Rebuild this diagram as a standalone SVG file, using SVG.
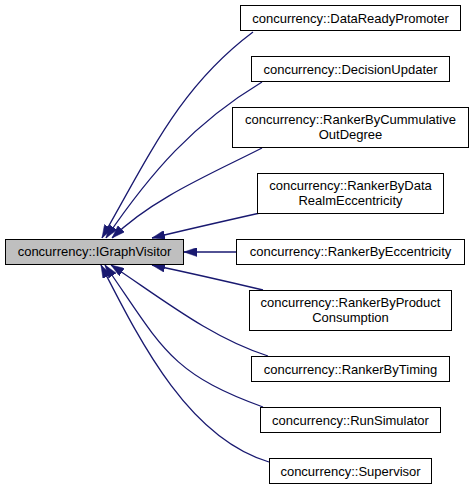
<svg xmlns="http://www.w3.org/2000/svg" width="475" height="489" viewBox="0 0 475 489">
<style>
.box{fill:#ffffff;stroke:#000000;stroke-width:1}
.root{fill:#bfbfbf;stroke:#000000;stroke-width:1}
text{font-family:"Liberation Sans",Arial,Helvetica,sans-serif;font-size:13px;fill:#000000;text-anchor:middle}
.edge{fill:none;stroke:#191970;stroke-width:1.3;marker-end:url(#arr)}
</style>
<defs>
<marker id="arr" viewBox="0 0 13 9" markerWidth="13" markerHeight="9" markerUnits="userSpaceOnUse" refX="13" refY="4.5" orient="auto">
<path d="M0,0 L13,4.5 L0,9 z" fill="#191970" stroke="#191970" stroke-width="0.5"/>
</marker>
</defs>
<rect width="475" height="489" fill="#ffffff"/>
<g id="connectors">
<path class="edge" d="M253,32 C181,86 152,150 102,238"/>
<path class="edge" d="M262,82 C194,123 151,172 106,238"/>
<path class="edge" d="M262,148 C213,173 151,199 112,238"/>
<path class="edge" d="M260,213 C220,222 185,230 152,238"/>
<path class="edge" d="M236,252 L184,252"/>
<path class="edge" d="M263,290 C225,281 190,273 152,265"/>
<path class="edge" d="M268,356 C211,338 161,298 111,265"/>
<path class="edge" d="M263,407 C169,373 162,347 105,265"/>
<path class="edge" d="M269,462 C188,438 140,341 101,265"/>
</g>
<g id="node-IGraphVisitor">
<rect class="root" x="5.5" y="239.5" width="178" height="25"/>
<text x="94.5" y="256">concurrency::IGraphVisitor</text>
</g>
<g id="node-DataReadyPromoter">
<rect class="box" x="240.5" y="5.5" width="220" height="25"/>
<text x="350.5" y="22.5">concurrency::DataReadyPromoter</text>
</g>
<g id="node-DecisionUpdater">
<rect class="box" x="251.5" y="56.5" width="198" height="25"/>
<text x="350.5" y="73.5">concurrency::DecisionUpdater</text>
</g>
<g id="node-RankerByCummulativeOutDegree">
<rect class="box" x="232.5" y="107.5" width="236" height="40"/>
<text x="350.5" y="124">concurrency::RankerByCummulative</text>
<text x="350.5" y="139">OutDegree</text>
</g>
<g id="node-RankerByDataRealmEccentricity">
<rect class="box" x="257.5" y="173.5" width="186" height="40"/>
<text x="350.5" y="190">concurrency::RankerByData</text>
<text x="350.5" y="205">RealmEccentricity</text>
</g>
<g id="node-RankerByEccentricity">
<rect class="box" x="236.5" y="239.5" width="228" height="25"/>
<text x="350.5" y="256">concurrency::RankerByEccentricity</text>
</g>
<g id="node-RankerByProductConsumption">
<rect class="box" x="249.5" y="290.5" width="202" height="40"/>
<text x="350.5" y="307">concurrency::RankerByProduct</text>
<text x="350.5" y="322">Consumption</text>
</g>
<g id="node-RankerByTiming">
<rect class="box" x="251.5" y="356.5" width="198" height="25"/>
<text x="350.5" y="373.5">concurrency::RankerByTiming</text>
</g>
<g id="node-RunSimulator">
<rect class="box" x="260.5" y="407.5" width="180" height="25"/>
<text x="350.5" y="424.5">concurrency::RunSimulator</text>
</g>
<g id="node-Supervisor">
<rect class="box" x="269.5" y="458.5" width="162" height="25"/>
<text x="350.5" y="475.5">concurrency::Supervisor</text>
</g>
</svg>
